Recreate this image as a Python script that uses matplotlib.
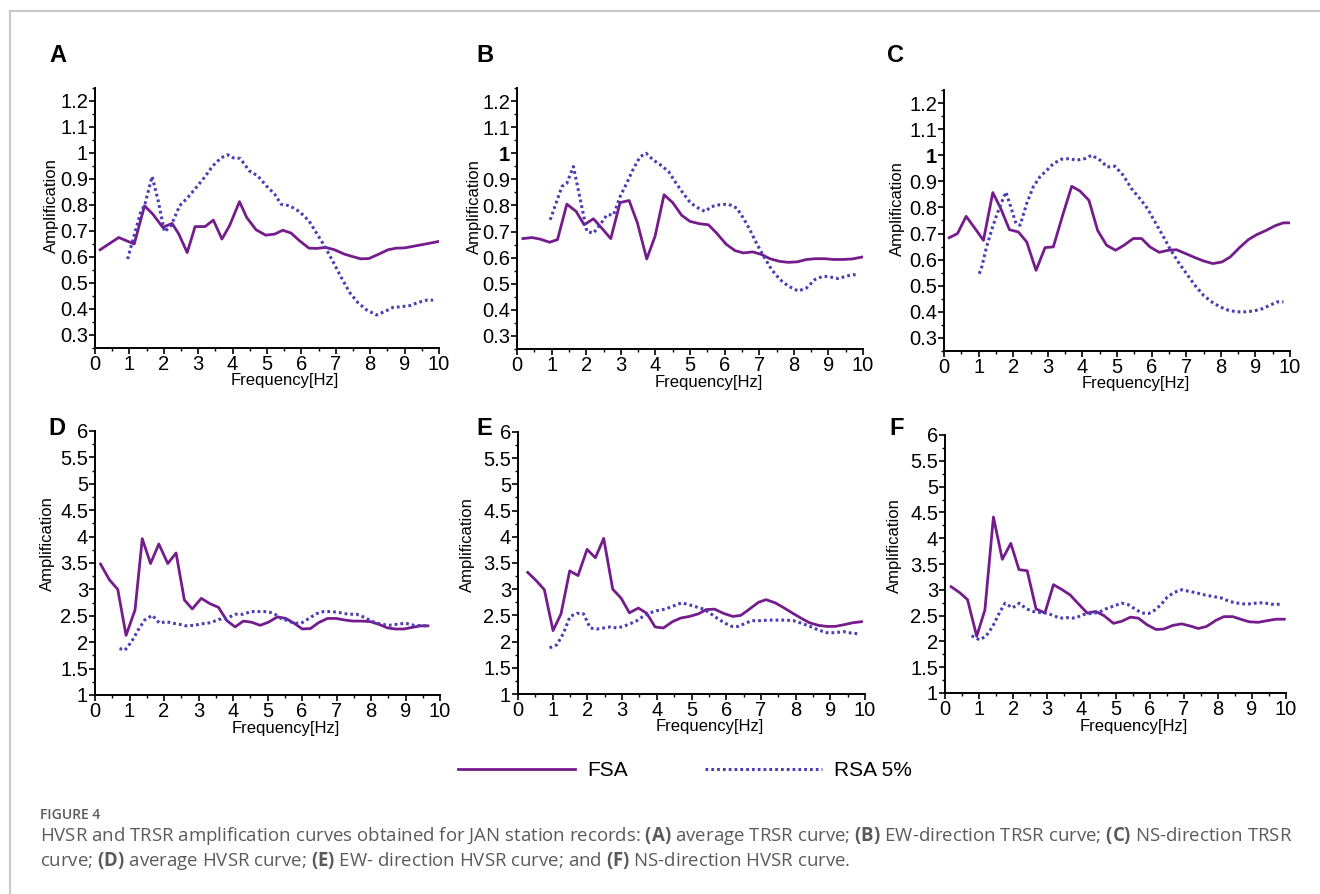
import matplotlib
matplotlib.use("Agg")
import matplotlib.pyplot as plt
from matplotlib.ticker import MultipleLocator, FuncFormatter
from matplotlib.lines import Line2D

plt.rcParams['font.family'] = ['Liberation Sans', 'DejaVu Sans']
plt.rcParams['mathtext.fontset'] = 'custom'
plt.rcParams['mathtext.rm'] = 'Open Sans'
plt.rcParams['mathtext.bf'] = 'Open Sans:bold'

# ---- data ----
# (A) average TRSR
a_fsa_f = [0.15, 0.69, 1.14, 1.44, 1.68, 1.97, 2.24, 2.43, 2.68, 2.91, 3.2, 3.44, 3.69, 3.91, 4.2,
           4.41, 4.68, 4.96, 5.22, 5.46, 5.7, 5.95, 6.22, 6.45, 6.7, 6.96, 7.25, 7.48, 7.72, 7.96,
           8.25, 8.52, 8.76, 9.0, 9.24, 9.49, 9.73, 10.0]
a_fsa_v = [0.628, 0.675, 0.65, 0.797, 0.765, 0.714, 0.729, 0.69, 0.617, 0.717, 0.717, 0.742, 0.669,
           0.72, 0.813, 0.752, 0.705, 0.684, 0.688, 0.703, 0.692, 0.662, 0.634, 0.633, 0.637, 0.628,
           0.611, 0.602, 0.593, 0.594, 0.611, 0.628, 0.634, 0.635, 0.641, 0.647, 0.653, 0.66]
a_rsa_f = [0.95, 1.0, 1.34, 1.44, 1.66, 1.83, 2.02, 2.21, 2.46, 2.7, 2.94, 3.18, 3.42, 3.67, 3.86,
           4.0, 4.22, 4.49, 4.73, 4.98, 5.22, 5.41, 5.66, 5.95, 6.22, 6.43, 6.67, 6.92, 7.16, 7.4,
           7.64, 7.89, 8.18, 8.42, 8.66, 8.91, 9.15, 9.39, 9.64, 9.83]
a_rsa_v = [0.592, 0.618, 0.778, 0.797, 0.91, 0.82, 0.697, 0.72, 0.797, 0.829, 0.867, 0.906, 0.95,
           0.982, 0.993, 0.982, 0.979, 0.931, 0.912, 0.874, 0.842, 0.803, 0.797, 0.774, 0.739, 0.694,
           0.643, 0.582, 0.521, 0.464, 0.425, 0.397, 0.377, 0.39, 0.406, 0.409, 0.413, 0.425, 0.434,
           0.434]

# (B) EW-direction TRSR
b_fsa_f = [0.17, 0.43, 0.67, 0.94, 1.17, 1.44, 1.71, 1.94, 2.21, 2.45, 2.71, 2.98, 3.24, 3.48, 3.75,
           3.99, 4.25, 4.5, 4.76, 5.0, 5.27, 5.53, 5.77, 6.04, 6.3, 6.54, 6.81, 7.07, 7.31, 7.58,
           7.84, 8.1, 8.37, 8.63, 8.89, 9.15, 9.42, 9.69, 10.0]
b_fsa_v = [0.673, 0.677, 0.671, 0.659, 0.669, 0.805, 0.777, 0.726, 0.749, 0.713, 0.673, 0.811, 0.819,
           0.733, 0.595, 0.682, 0.841, 0.811, 0.762, 0.739, 0.73, 0.726, 0.694, 0.652, 0.627, 0.618,
           0.622, 0.612, 0.596, 0.586, 0.582, 0.584, 0.593, 0.596, 0.596, 0.593, 0.593, 0.595, 0.603]
b_rsa_f = [0.96, 1.13, 1.3, 1.44, 1.63, 1.83, 2.02, 2.21, 2.4, 2.6, 2.79, 2.98, 3.17, 3.37, 3.56,
           3.73, 3.94, 4.15, 4.38, 4.6, 4.81, 5.02, 5.24, 5.43, 5.63, 5.87, 6.11, 6.35, 6.54, 6.73,
           6.92, 7.13, 7.36, 7.6, 7.84, 8.13, 8.37, 8.61, 8.85, 9.04, 9.28, 9.52, 9.71, 9.86]
b_rsa_v = [0.745, 0.809, 0.873, 0.885, 0.949, 0.822, 0.7, 0.694, 0.726, 0.764, 0.764, 0.834, 0.885,
           0.942, 0.987, 1.0, 0.974, 0.955, 0.93, 0.885, 0.845, 0.809, 0.79, 0.777, 0.796, 0.803,
           0.805, 0.79, 0.752, 0.707, 0.656, 0.605, 0.554, 0.516, 0.491, 0.472, 0.484, 0.516, 0.529,
           0.526, 0.52, 0.529, 0.535, 0.532]

# (C) NS-direction TRSR
c_fsa_f = [0.15, 0.39, 0.64, 0.9, 1.14, 1.41, 1.64, 1.89, 2.15, 2.39, 2.66, 2.92, 3.16, 3.43, 3.69,
           3.93, 4.19, 4.44, 4.7, 4.96, 5.2, 5.47, 5.71, 5.95, 6.22, 6.48, 6.72, 6.99, 7.25, 7.5,
           7.77, 8.03, 8.27, 8.54, 8.8, 9.04, 9.31, 9.57, 9.81, 10.0]
c_fsa_v = [0.684, 0.7, 0.766, 0.719, 0.674, 0.857, 0.796, 0.715, 0.706, 0.668, 0.559, 0.646, 0.649,
           0.77, 0.881, 0.863, 0.827, 0.712, 0.655, 0.636, 0.655, 0.681, 0.681, 0.649, 0.628, 0.636,
           0.638, 0.623, 0.608, 0.595, 0.585, 0.591, 0.61, 0.646, 0.677, 0.696, 0.712, 0.73, 0.741,
           0.741]
c_rsa_f = [1.02, 1.09, 1.23, 1.38, 1.52, 1.67, 1.79, 1.93, 2.08, 2.2, 2.39, 2.58, 2.77, 2.97, 3.16,
           3.4, 3.62, 3.83, 4.07, 4.27, 4.51, 4.72, 4.94, 5.18, 5.42, 5.66, 5.88, 6.1, 6.32, 6.53,
           6.77, 7.01, 7.25, 7.5, 7.74, 7.98, 8.22, 8.46, 8.7, 8.94, 9.18, 9.42, 9.62, 9.81]
c_rsa_v = [0.546, 0.572, 0.649, 0.715, 0.77, 0.821, 0.859, 0.802, 0.738, 0.732, 0.815, 0.879, 0.917,
           0.942, 0.968, 0.985, 0.987, 0.981, 0.987, 1.0, 0.981, 0.955, 0.958, 0.923, 0.872, 0.834,
           0.796, 0.744, 0.693, 0.642, 0.591, 0.546, 0.502, 0.463, 0.438, 0.419, 0.406, 0.4, 0.4,
           0.403, 0.411, 0.425, 0.438, 0.438]

# (D) average HVSR
d_fsa_f = [0.16, 0.42, 0.66, 0.9, 1.16, 1.37, 1.61, 1.85, 2.11, 2.35, 2.59, 2.82, 3.08, 3.33, 3.58,
           3.82, 4.06, 4.3, 4.53, 4.79, 5.03, 5.29, 5.53, 5.77, 6.01, 6.25, 6.48, 6.74, 6.99, 7.24,
           7.48, 7.72, 7.98, 8.22, 8.48, 8.72, 8.95, 9.19, 9.43, 9.65]
d_fsa_v = [3.48, 3.18, 3.0, 2.13, 2.61, 3.96, 3.49, 3.86, 3.49, 3.69, 2.8, 2.63, 2.83, 2.73, 2.66,
           2.41, 2.29, 2.4, 2.38, 2.32, 2.38, 2.48, 2.45, 2.36, 2.25, 2.26, 2.37, 2.45, 2.45, 2.42,
           2.4, 2.4, 2.39, 2.34, 2.27, 2.25, 2.25, 2.28, 2.31, 2.31]
d_rsa_f = [0.71, 0.87, 1.06, 1.25, 1.44, 1.66, 1.87, 2.06, 2.25, 2.44, 2.63, 2.87, 3.11, 3.35, 3.58,
           3.82, 4.06, 4.3, 4.52, 4.77, 5.01, 5.2, 5.39, 5.58, 5.77, 5.98, 6.2, 6.42, 6.63, 6.86,
           7.1, 7.34, 7.58, 7.81, 8.05, 8.29, 8.53, 8.76, 9.0, 9.24, 9.48, 9.67]
d_rsa_v = [1.88, 1.85, 2.01, 2.23, 2.42, 2.51, 2.36, 2.39, 2.36, 2.34, 2.31, 2.32, 2.35, 2.37, 2.43,
           2.45, 2.53, 2.53, 2.58, 2.58, 2.58, 2.54, 2.45, 2.41, 2.36, 2.36, 2.45, 2.54, 2.58, 2.58,
           2.56, 2.53, 2.53, 2.47, 2.39, 2.34, 2.32, 2.34, 2.36, 2.32, 2.31, 2.31]

# (E) EW-direction HVSR
e_fsa_f = [0.28, 0.53, 0.76, 1.01, 1.24, 1.49, 1.73, 1.99, 2.23, 2.47, 2.73, 2.97, 3.21, 3.47, 3.71,
           3.95, 4.19, 4.45, 4.69, 4.94, 5.2, 5.42, 5.66, 5.92, 6.19, 6.42, 6.67, 6.93, 7.15, 7.41,
           7.65, 7.92, 8.15, 8.4, 8.66, 8.9, 9.14, 9.38, 9.65, 9.9]
e_fsa_v = [3.32, 3.16, 2.99, 2.21, 2.53, 3.35, 3.26, 3.76, 3.6, 3.97, 3.0, 2.83, 2.55, 2.64, 2.54,
           2.28, 2.26, 2.38, 2.45, 2.48, 2.53, 2.61, 2.62, 2.54, 2.48, 2.5, 2.62, 2.75, 2.8, 2.74,
           2.65, 2.54, 2.45, 2.36, 2.31, 2.29, 2.29, 2.32, 2.36, 2.38]
e_rsa_f = [0.91, 1.12, 1.31, 1.5, 1.7, 1.89, 2.08, 2.27, 2.47, 2.66, 2.85, 3.04, 3.23, 3.43, 3.62,
           3.81, 4.0, 4.24, 4.48, 4.72, 4.94, 5.15, 5.35, 5.54, 5.73, 5.94, 6.16, 6.35, 6.55, 6.74,
           6.98, 7.22, 7.46, 7.7, 7.93, 8.17, 8.42, 8.66, 8.9, 9.14, 9.38, 9.62, 9.81]
e_rsa_v = [1.88, 1.94, 2.16, 2.48, 2.54, 2.53, 2.26, 2.24, 2.26, 2.28, 2.26, 2.29, 2.34, 2.4, 2.49,
           2.55, 2.59, 2.62, 2.68, 2.74, 2.7, 2.66, 2.62, 2.54, 2.45, 2.36, 2.29, 2.29, 2.35, 2.4,
           2.4, 2.41, 2.41, 2.41, 2.4, 2.35, 2.29, 2.22, 2.17, 2.17, 2.19, 2.16, 2.15]

# (F) NS-direction HVSR
f_fsa_f = [0.18, 0.44, 0.66, 0.93, 1.17, 1.42, 1.68, 1.93, 2.17, 2.41, 2.67, 2.93, 3.18, 3.44, 3.67,
           3.91, 4.17, 4.42, 4.66, 4.94, 5.18, 5.44, 5.67, 5.93, 6.19, 6.42, 6.68, 6.94, 7.18, 7.43,
           7.67, 7.95, 8.18, 8.44, 8.67, 8.92, 9.19, 9.43, 9.71, 9.95]
f_fsa_v = [3.06, 2.94, 2.81, 2.1, 2.61, 4.41, 3.59, 3.9, 3.39, 3.37, 2.63, 2.55, 3.1, 3.0, 2.9,
           2.73, 2.55, 2.58, 2.5, 2.35, 2.39, 2.47, 2.45, 2.32, 2.23, 2.24, 2.31, 2.34, 2.3, 2.25,
           2.29, 2.41, 2.48, 2.48, 2.43, 2.38, 2.37, 2.4, 2.43, 2.43]
f_rsa_f = [0.78, 1.01, 1.2, 1.4, 1.6, 1.76, 1.98, 2.18, 2.39, 2.59, 2.79, 2.99, 3.18, 3.37, 3.57,
           3.81, 4.06, 4.27, 4.5, 4.72, 4.96, 5.18, 5.38, 5.57, 5.77, 5.97, 6.16, 6.33, 6.52, 6.72,
           6.94, 7.16, 7.38, 7.62, 7.87, 8.11, 8.36, 8.6, 8.84, 9.09, 9.34, 9.58, 9.82]
f_rsa_v = [2.11, 2.03, 2.1, 2.29, 2.56, 2.74, 2.65, 2.74, 2.63, 2.58, 2.56, 2.55, 2.5, 2.45, 2.46,
           2.45, 2.52, 2.54, 2.56, 2.63, 2.69, 2.74, 2.71, 2.63, 2.55, 2.54, 2.61, 2.71, 2.86, 2.95,
           3.0, 2.97, 2.94, 2.9, 2.87, 2.84, 2.77, 2.74, 2.72, 2.74, 2.75, 2.72, 2.72]

panel_letters = ['A', 'B', 'C', 'D', 'E', 'F']
series_labels = ['FSA', 'RSA 5%']
x_label = 'Frequency[Hz]'
y_label = 'Amplification'
caption_title = 'FIGURE 4'
caption_lines = [
    r'HVSR and TRSR amplification curves obtained for JAN station records: $\mathbf{(A)}$ average TRSR curve; '
    r'$\mathbf{(B)}$ EW-direction TRSR curve; $\mathbf{(C)}$ NS-direction TRSR',
    r'curve; $\mathbf{(D)}$ average HVSR curve; $\mathbf{(E)}$ EW- direction HVSR curve; and '
    r'$\mathbf{(F)}$ NS-direction HVSR curve.',
]

FSA_COLOR = '#741c8c'
RSA_COLOR = '#4a3db4'
W, H = 1320, 894

fig = plt.figure(figsize=(W / 100, H / 100), dpi=100)

# axes boxes in pixels: left, top, right, bottom
boxes = [(95, 88, 439, 348), (517, 88, 863, 349), (944, 90, 1290, 351),
         (95, 431, 440, 695), (518, 432, 865, 694), (945, 435, 1286, 693)]
letter_pos = [(58, 56), (485, 56), (896, 56), (57, 429), (484, 429), (897, 429)]
ylab_off = [44, 43, 47, 48, 51, 51]

panels = [(a_fsa_f, a_fsa_v, a_rsa_f, a_rsa_v), (b_fsa_f, b_fsa_v, b_rsa_f, b_rsa_v),
          (c_fsa_f, c_fsa_v, c_rsa_f, c_rsa_v), (d_fsa_f, d_fsa_v, d_rsa_f, d_rsa_v),
          (e_fsa_f, e_fsa_v, e_rsa_f, e_rsa_v), (f_fsa_f, f_fsa_v, f_rsa_f, f_rsa_v)]

fmt = FuncFormatter(lambda v, p: f'{v:g}')

for i, (ff, fv, rf, rv) in enumerate(panels):
    l, t, r, b = boxes[i]
    ax = fig.add_axes([l / W, 1 - b / H, (r - l) / W, (b - t) / H])
    ax.plot(ff, fv, color=FSA_COLOR, lw=2.0, label=series_labels[0])
    ax.plot(rf, rv, color=RSA_COLOR, lw=2.2, ls=(0, (0.9, 1.0)), label=series_labels[1])

    ax.set_xlim(0, 10)
    ax.xaxis.set_major_locator(MultipleLocator(1))
    ax.xaxis.set_minor_locator(MultipleLocator(0.5))
    if i < 3:
        ax.set_ylim(0.25, 1.25)
        ax.yaxis.set_major_locator(MultipleLocator(0.1))
        ax.yaxis.set_minor_locator(MultipleLocator(0.05))
    else:
        ax.set_ylim(1, 6)
        ax.yaxis.set_major_locator(MultipleLocator(0.5))
        ax.yaxis.set_minor_locator(MultipleLocator(0.25))
    ax.xaxis.set_major_formatter(fmt)
    ax.yaxis.set_major_formatter(fmt)

    for s in ['top', 'right']:
        ax.spines[s].set_visible(False)
    for s in ['left', 'bottom']:
        ax.spines[s].set_linewidth(1.4)
    ax.tick_params(which='major', direction='out', length=4, width=1.2, labelsize=14.5, pad=1.0)
    ax.tick_params(which='minor', direction='out', length=2.5, width=1.0)

    if i in (1, 2):
        for tl in ax.get_yticklabels():
            if tl.get_text() == '1':
                tl.set_fontweight('bold')

    ax.set_xlabel(x_label, fontsize=12, va='center')
    ax.xaxis.set_label_coords(0.553, -33 / (b - t))
    ax.set_ylabel(y_label, fontsize=12, va='center')
    ax.yaxis.set_label_coords(-ylab_off[i] / (r - l), 0.546 if i < 3 else 0.572)

    lx, ly = letter_pos[i]
    fig.text(lx / W, 1 - ly / H, panel_letters[i], fontsize=17, fontweight='bold',
             ha='center', va='center')

# shared legend
handles = [Line2D([], [], color=FSA_COLOR, lw=2.0),
           Line2D([], [], color=RSA_COLOR, lw=2.2, ls=(0, (0.9, 1.0)))]
fig.legend(handles, series_labels, loc='center', bbox_to_anchor=(685 / W, 1 - 771 / H),
           ncol=2, frameon=False, fontsize=15, handlelength=5.6, handletextpad=0.6,
           columnspacing=3.7)

# caption
fig.text(40 / W, 1 - 815 / H, caption_title, fontsize=10, color='#5a5a5a',
         family='Open Sans', fontweight='semibold', va='center')
for k, line in enumerate(caption_lines):
    fig.text(40 / W, 1 - (836 + 25 * k) / H, line, fontsize=13.4, color='#5a5a5a',
             family='Open Sans', va='center')

# page frame lines
fig.add_artist(Line2D([10 / W, 10 / W], [0, 1 - 11 / H], transform=fig.transFigure,
                      color='#c8c8c8', lw=1.5))
fig.add_artist(Line2D([10 / W, 1], [1 - 11 / H, 1 - 11 / H], transform=fig.transFigure,
                      color='#c8c8c8', lw=1.5))

fig.savefig('out.png', dpi=100)
